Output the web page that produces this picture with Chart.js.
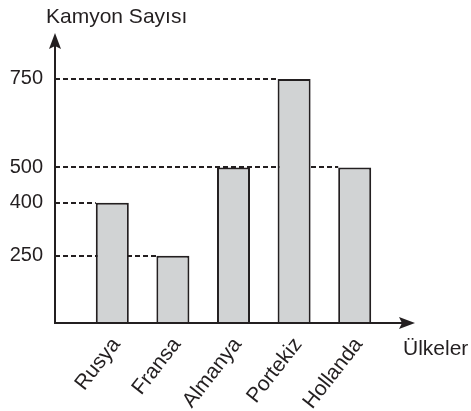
<!DOCTYPE html>
<html>
<head>
<meta charset="utf-8">
<script src="https://cdn.jsdelivr.net/npm/chart.js@4/dist/chart.umd.min.js"></script>
<style>
  html, body { margin: 0; padding: 0; background: #ffffff; }
  #wrap { width: 471px; height: 411px; }
</style>
</head>
<body>
<div id="wrap"><canvas id="c" width="471" height="411"></canvas></div>
<script>
const categories = ["Rusya", "Fransa", "Almanya", "Portekiz", "Hollanda"];
const truckCounts = [400, 250, 500, 750, 500];
const yTickValues = [250, 400, 500, 750];
const yAxisTitle = "Kamyon Sayısı";
const xAxisTitle = "Ülkeler";

const INK = "#231f20";
const FONT = "'Liberation Sans', Arial, Helvetica, sans-serif";

const axesPlugin = {
  id: "axesPlugin",
  beforeDatasetsDraw(chart) {
    const ctx = chart.ctx;
    const axisX = chart.chartArea.left - 27;
    const meta = chart.getDatasetMeta(0);
    ctx.save();
    ctx.strokeStyle = INK;
    ctx.lineWidth = 2;
    ctx.setLineDash([5, 3]);
    meta.data.forEach((bar) => {
      const left = bar.x - bar.width / 2;
      const yy = Math.round(bar.y);
      ctx.beginPath();
      ctx.moveTo(axisX, yy);
      ctx.lineTo(left, yy);
      ctx.stroke();
    });
    ctx.restore();
  },
  afterDraw(chart) {
    const ctx = chart.ctx;
    const area = chart.chartArea;
    const axisX = area.left - 27;
    const axisY = area.bottom;
    const topY = area.top;
    ctx.save();
    ctx.strokeStyle = INK;
    ctx.fillStyle = INK;
    ctx.lineWidth = 2;
    // y axis
    ctx.beginPath();
    ctx.moveTo(axisX, axisY + 1);
    ctx.lineTo(axisX, topY + 12);
    ctx.stroke();
    ctx.beginPath();
    ctx.moveTo(axisX, topY);
    ctx.lineTo(axisX + 6, topY + 16);
    ctx.lineTo(axisX, topY + 13);
    ctx.lineTo(axisX - 6, topY + 16);
    ctx.closePath();
    ctx.fill();
    // x axis
    const tipX = area.right + 30;
    ctx.beginPath();
    ctx.moveTo(axisX - 1, axisY);
    ctx.lineTo(tipX - 12, axisY);
    ctx.stroke();
    ctx.beginPath();
    ctx.moveTo(tipX, axisY);
    ctx.lineTo(tipX - 16, axisY - 6);
    ctx.lineTo(tipX - 13, axisY);
    ctx.lineTo(tipX - 16, axisY + 6);
    ctx.closePath();
    ctx.fill();
    // titles
    ctx.font = "21px " + FONT;
    ctx.textAlign = "left";
    ctx.textBaseline = "alphabetic";
    ctx.fillText(yAxisTitle, 46, 23);
    ctx.fillText(xAxisTitle, 403, 355);
    ctx.restore();
  }
};

new Chart(document.getElementById("c"), {
  type: "bar",
  data: {
    labels: categories,
    datasets: [{
      data: truckCounts,
      backgroundColor: "#d1d3d4",
      borderColor: INK,
      borderWidth: 2,
      borderSkipped: "bottom",
      barPercentage: 0.545,
      categoryPercentage: 1.0
    }]
  },
  options: {
    responsive: false,
    animation: false,
    events: [],
    layout: { padding: { top: 33, right: 86, bottom: 0, left: 0 } },
    plugins: {
      legend: { display: false },
      tooltip: { enabled: false },
      title: { display: false }
    },
    scales: {
      x: {
        grid: { display: false, drawTicks: false },
        border: { display: false },
        ticks: {
          color: INK,
          font: { family: FONT, size: 21 },
          minRotation: 52,
          maxRotation: 52,
          padding: 10,
          labelOffset: 4,
          autoSkip: false
        },
        afterFit(scale) {
          scale.height = 88;
          scale.paddingLeft = 0;
          scale.paddingRight = 0;
        }
      },
      y: {
        min: 60,
        max: 880,
        grid: { display: false, drawTicks: false },
        border: { display: false },
        afterBuildTicks(scale) {
          scale.ticks = yTickValues.map(v => ({ value: v }));
        },
        ticks: {
          color: INK,
          font: { family: FONT, size: 20 },
          padding: 39,
          callback: (v) => String(v)
        },
        afterFit(scale) {
          scale.width = 82;
          scale.paddingTop = 0;
          scale.paddingBottom = 0;
        }
      }
    }
  },
  plugins: [axesPlugin]
});
</script>
</body>
</html>
